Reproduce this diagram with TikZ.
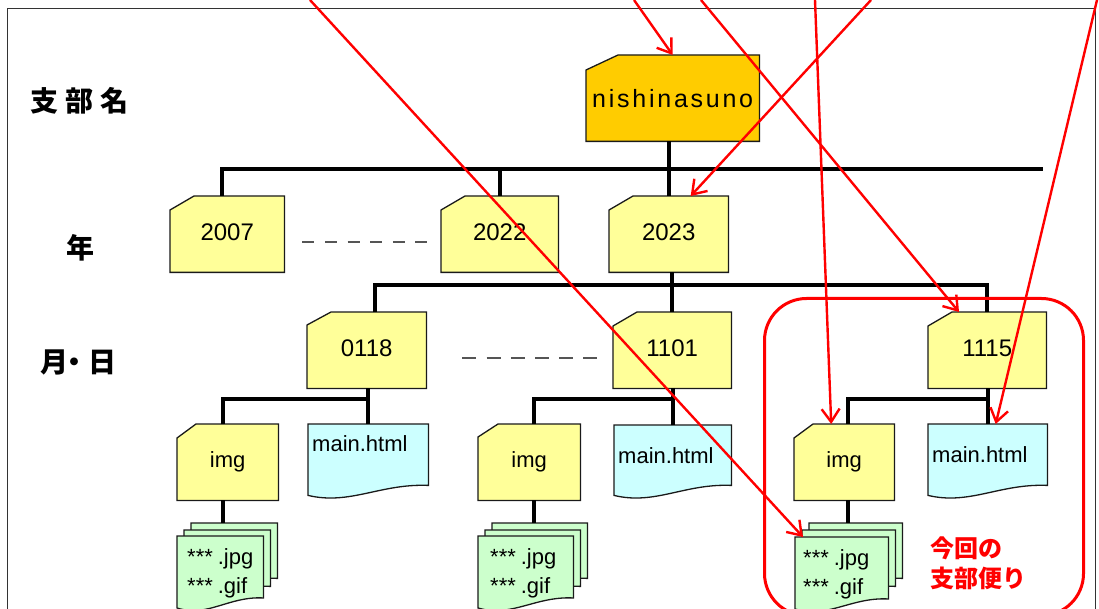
\documentclass[tikz,border=0pt]{standalone}
\usepackage{fontspec}
\setmainfont{Liberation Sans}
\newfontfamily\spacedfont[LetterSpace=11]{Liberation Sans}
\newfontfamily\jpfont{Noto Sans CJK JP}
\usetikzlibrary{arrows.meta,calc,backgrounds}
\definecolor{folderY}{HTML}{FFFF99}
\definecolor{rootO}{HTML}{FFCC00}
\definecolor{docC}{HTML}{CCFFFF}
\definecolor{pageG}{HTML}{CCFFCC}
\definecolor{edgeK}{HTML}{1A1A1A}
\definecolor{frameK}{HTML}{333333}
\definecolor{dashK}{HTML}{555555}
\definecolor{redA}{HTML}{FF0000}
% folder outline: node, fill, corner dx, corner dy
\newcommand\folderbox[4]{%
  \filldraw[outline, fill=#2] ($(#1.north west)+(0,#4)$) -- ($(#1.north west)+(#3,0)$)
    -- (#1.north east) -- (#1.south east) -- (#1.south west) -- cycle;}
% document outline with wavy bottom: node, fill
\newcommand\docbox[2]{%
  \filldraw[outline, fill=#2] (#1.south east) -- (#1.north east) -- (#1.north west)
    -- ($(#1.south west)+(0,10)$)
    .. controls ($(#1.south west)!0.35!(#1.south east)+(0,20)$) and ($(#1.south west)!0.6!(#1.south east)+(0,-2)$) .. (#1.south east) -- cycle;}
\begin{document}
\begin{tikzpicture}[x=1pt,y=-1pt,
  shapebox/.style={inner sep=0pt, anchor=north west, text=black},
  yearfont/.style={font=\fontsize{24}{28}\selectfont, text depth=4pt},
  smallfont/.style={font=\fontsize{22}{26}\selectfont},
  htmltext/.style={shapebox, smallfont, align=left, inner xsep=4pt},
  pagetext/.style={shapebox, align=left, font=\fontsize{22}{29}\selectfont, text height=28pt},
  outline/.style={draw=edgeK, line width=1.3pt},
  conn/.style={draw=black, line width=3.6pt},
  dashsep/.style={draw=dashK, line width=2pt},
  redarrow/.style={draw=redA, line width=2.4pt, -{Straight Barb[length=13pt,width=18pt]}},
  jplab/.style={font=\jpfont\bfseries\fontsize{28}{32}\selectfont, inner sep=0pt, text=black}]
\useasboundingbox (0,0) rectangle (1099,609);
% outer frame
\node[draw=frameK, line width=1.1pt, inner sep=0pt, anchor=north west,
      minimum width=1088pt, minimum height=630pt] (frame) at (7,8) {};

% level labels
\node[jplab, anchor=west] (lab1) at (30,101) {支\hspace{7pt}部\hspace{7pt}名};
\node[jplab] (lab2) at (80,248) {年};
\node[jplab, anchor=west] (lab3) at (40,362) {月\kern-8pt・日};

% root
\node[shapebox, minimum width=173pt, minimum height=86pt,
      font={\spacedfont\fontsize{25}{30}\selectfont}] (root) at (586,55) {nishinasuno};
% years
\node[shapebox, yearfont, minimum width=114pt, minimum height=76pt] (y2007) at (170,196) {2007};
\node[shapebox, yearfont, minimum width=117pt, minimum height=76pt] (y2022) at (441,196) {2022};
\node[shapebox, yearfont, minimum width=119pt, minimum height=76pt] (y2023) at (609,196) {2023};
% months
\node[shapebox, yearfont, minimum width=119pt, minimum height=76pt] (m0118) at (307,312) {0118};
\node[shapebox, yearfont, minimum width=118pt, minimum height=76pt] (m1101) at (613,312) {1101};
\node[shapebox, yearfont, minimum width=118pt, minimum height=76pt] (m1115) at (928,312) {1115};
% img folders
\node[shapebox, smallfont, minimum width=101pt, minimum height=76pt] (img1) at (177,424) {img};
\node[shapebox, smallfont, minimum width=102pt, minimum height=76pt] (img2) at (478,424) {img};
\node[shapebox, smallfont, minimum width=100pt, minimum height=76pt] (img3) at (794,424) {img};
% main.html documents
\node[htmltext, text width=112pt, minimum height=61pt, text depth=22pt] (html1) at (308,424) {main.html};
\node[htmltext, text width=109pt, minimum height=60pt] (html2) at (614,425) {main.html};
\node[htmltext, text width=111pt, minimum height=61pt] (html3) at (928,424) {main.html};
% page stacks (back, middle, front)
\node[shapebox, minimum width=86pt, minimum height=55pt] (pg1a) at (191,523) {};
\node[shapebox, minimum width=86pt, minimum height=56pt] (pg1b) at (184,530) {};
\node[pagetext, inner xsep=10pt, text width=66pt, minimum height=57pt] (pg1) at (177,536) {***\kern5pt.jpg\\{}***\kern5pt.gif};
\node[shapebox, minimum width=95pt, minimum height=55pt] (pg2a) at (492,523) {};
\node[shapebox, minimum width=95pt, minimum height=56pt] (pg2b) at (485,530) {};
\node[pagetext, inner xsep=12pt, text width=71pt, minimum height=57pt] (pg2) at (478,536) {***\kern5pt.jpg\\{}***\kern5pt.gif};
\node[shapebox, minimum width=93pt, minimum height=55pt] (pg3a) at (809,523) {};
\node[shapebox, minimum width=93pt, minimum height=56pt] (pg3b) at (802,530) {};
\node[pagetext, inner xsep=8pt, text width=77pt, minimum height=56pt] (pg3) at (795,537) {***\kern5pt.jpg\\{}***\kern5pt.gif};

% shapes behind the texts
\begin{scope}[on background layer]
  \fill[white] (0,0) rectangle (1099,609);
  \folderbox{root}{rootO}{32}{15}
  \folderbox{y2007}{folderY}{24}{14}
  \folderbox{y2022}{folderY}{24}{14}
  \folderbox{y2023}{folderY}{24}{14}
  \folderbox{m0118}{folderY}{24}{13}
  \folderbox{m1101}{folderY}{24}{14}
  \folderbox{m1115}{folderY}{24}{14}
  \folderbox{img1}{folderY}{19}{14}
  \folderbox{img2}{folderY}{20}{13}
  \folderbox{img3}{folderY}{19}{14}
  \docbox{html1}{docC}
  \docbox{html2}{docC}
  \docbox{html3}{docC}
  \docbox{pg1a}{pageG}\docbox{pg1b}{pageG}\docbox{pg1}{pageG}
  \docbox{pg2a}{pageG}\docbox{pg2b}{pageG}\docbox{pg2}{pageG}
  \docbox{pg3a}{pageG}\docbox{pg3b}{pageG}\docbox{pg3}{pageG}
\end{scope}

% tree connectors
\coordinate (yend) at (1043,169);
\coordinate (lv) at (0,399);
\draw[conn] ([xshift=-5pt]y2007.north) |- (yend);
\draw[conn] (y2022.north) -- (y2022.north |- yend);
\draw[conn] (y2023.north) -- (y2023.north |- root.south);
\draw[conn] ([xshift=8pt]m0118.north) -- ++(0,-27) -| (m1115.north);
\draw[conn] (y2023.south -| m1101.north) -- (m1101.north);
% 0118 children
\draw[conn] (html1.north) -- (html1.north |- m0118.south);
\draw[conn] ([xshift=-5pt]img1.north) |- (html1.north |- lv);
\draw[conn] ([xshift=-5pt]img1.south) -- ([xshift=-5pt]img1.south |- pg1a.north);
% 1101 children
\draw[conn] (html2.north) -- (html2.north |- m1101.south);
\draw[conn] ([xshift=5pt]img2.north) |- (html2.north |- lv);
\draw[conn] ([xshift=5pt]img2.south) -- ([xshift=5pt]img2.south |- pg2a.north);
% 1115 children
\draw[conn] (html3.north) -- (html3.north |- m1115.south);
\draw[conn] ([xshift=4pt]img3.north) |- (html3.north |- lv);
\draw[conn] ([xshift=4pt]img3.south) -- ([xshift=4pt]img3.south |- pg3a.north);

% omitted ranges
\draw[dashsep, dash pattern=on 12pt off 10.6pt] ($(y2007.east)+(18,8)$) -- ($(y2022.west)+(-14,8)$);
\draw[dashsep, dash pattern=on 14pt off 10.2pt] ($(m0118.east)+(36,8)$) -- ($(m1101.west)+(-16,8)$);

% highlighted group
\node[draw=redA, line width=3pt, rounded corners=42pt, inner sep=0pt, anchor=north west,
      minimum width=319pt, minimum height=317pt] (grp) at (763,297) {};
\node[font=\jpfont\bfseries\fontsize{24}{30}\selectfont, text=redA, align=left,
      anchor=west, inner sep=0pt] (news) at (930,563) {今回の\\支部便り};

% red arrows
\coordinate (s1) at (310,0);
\coordinate (s2) at (634,0);
\coordinate (s3) at (701,0);
\coordinate (s4) at (815,0);
\coordinate (s5) at (871,0);
\coordinate (s6) at (1097,0);
\draw[redarrow] (s1) -- ([xshift=8pt]pg3.north west);
\draw[redarrow] (s2) -- (root.north);
\draw[redarrow] (s3) -- ([xshift=31pt]m1115.north west);
\draw[redarrow] (s4) -- ([xshift=-13pt]img3.north);
\draw[redarrow] (s5) -- ([xshift=22pt]y2023.north);
\draw[redarrow] (s6) -- ([xshift=8pt]html3.north);
\end{tikzpicture}
\end{document}
